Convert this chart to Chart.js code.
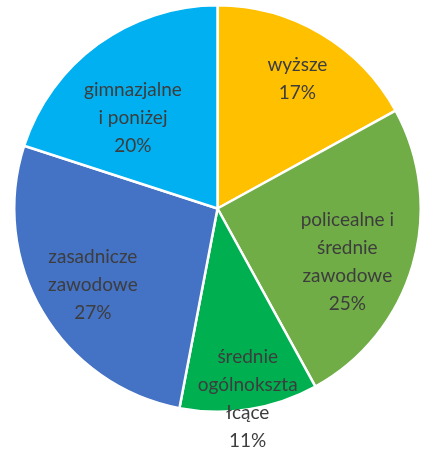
<!DOCTYPE html>
<html>
<head>
<meta charset="utf-8">
<script src="https://cdn.jsdelivr.net/npm/chart.js@4"></script>
<style>
  body { margin: 0; background: #fff; }
  #wrap { width: 422px; height: 454px; position: relative; }
</style>
</head>
<body>
<div id="wrap"><canvas id="pie"></canvas></div>
<script>
// Chart data
const categories = [
    ['wyższe'],
    ['policealne i', 'średnie', 'zawodowe'],
    ['średnie', 'ogólnokszta', 'łcące'],
    ['zasadnicze', 'zawodowe'],
    ['gimnazjalne', 'i poniżej']
];
const shares = [17, 25, 11, 27, 20];
const colors = ['#FFC000', '#70AD47', '#00B050', '#4472C4', '#00B0F0'];

// how far out each label sits (fraction of radius) and small angle tweak in degrees
const labelRadius = [0.75, 0.69, 0.95, 0.72, 0.61];
const labelTurn = [1, 6, 0, -1, -7];

const lineHeight = 28;

// Draws the multi-line labels inside slices
const sliceLabels = {
    id: 'sliceLabels',
    afterDatasetsDraw(chart) {
        const ctx = chart.ctx;
        const meta = chart.getDatasetMeta(0);
        ctx.save();
        ctx.font = '19px Lato, "Open Sans", sans-serif';
        ctx.fillStyle = '#3d3d3d';
        ctx.textAlign = 'center';
        ctx.textBaseline = 'middle';
        meta.data.forEach((arc, i) => {
            const p = arc.getProps(['x', 'y', 'startAngle', 'endAngle', 'outerRadius']);
            const mid = (p.startAngle + p.endAngle) / 2 + labelTurn[i] * Math.PI / 180;
            const r = p.outerRadius * labelRadius[i];
            const cx = p.x + Math.cos(mid) * r;
            const cy = p.y + Math.sin(mid) * r;
            const lines = categories[i].concat([shares[i] + '%']);
            const top = cy - (lines.length - 1) * lineHeight / 2;
            lines.forEach((t, j) => ctx.fillText(t, cx, top + j * lineHeight));
        });
        ctx.restore();
    }
};

new Chart(document.getElementById('pie'), {
    type: 'pie',
    data: {
        labels: categories.map(c => c.join(' ')),
        datasets: [{
            data: shares,
            backgroundColor: colors,
            borderColor: '#ffffff',
            borderWidth: 2.5
        }]
    },
    options: {
        responsive: true,
        maintainAspectRatio: false,
        animation: false,
        layout: { padding: { left: 13, right: 0, top: 4, bottom: 41 } },
        plugins: {
            legend: { display: false },
            tooltip: { enabled: false }
        }
    },
    plugins: [sliceLabels]
});
</script>
</body>
</html>
